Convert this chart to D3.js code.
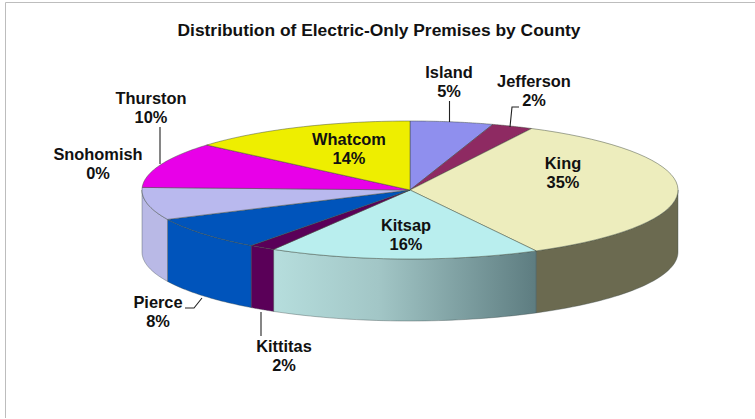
<!DOCTYPE html>
<html><head><meta charset="utf-8">
<script src="https://cdn.jsdelivr.net/npm/d3@7/dist/d3.min.js"></script>
<style>html,body{margin:0;background:#fff}svg{display:block}
text{font-family:"Liberation Sans",Arial,sans-serif;font-weight:bold;fill:#111}</style>
</head><body><svg id="c" width="755" height="419"></svg>
<script>
const title = "Distribution of Electric-Only Premises by County";
const categories = ["Island","Jefferson","King","Kitsap","Kittitas","Pierce","","Snohomish","Thurston","Whatcom"];
const sliceShares = [5,2.5,34.7,16.3,1.6,7.9,7.6,0,10.7,13.7];
const labelText = ["5%","2%","35%","16%","2%","8%","","0%","10%","14%"];

// styling and layout
const topColors = ["#8f8fee","#8e2a62","#ededbd","#b9eeee","#5a0058","#0054bb","#b9b9ee","#b9b9ee","#e800e8","#eeee00"];
const wallColors = ["#6f6fb8","#6e2050","#6b6a50","url(#kitsapWall)","#5a0058","#0054bb","#b9b9e6","#b9b9e6","#b000b0","#b0b000"];
const labelPos = [[449,82],[534,91],[563,173],[406,235],[284,356],[158,312],[0,0],[98,164],[151,108],[349,149]];
const leaders = [
  [[449.5,101],[449.5,122]],
  [[519,107],[512,107],[510,127]],
  [[185,308],[194,308],[202,298]],
  [[261,312],[261,336]],
  [[160,127],[160,164]]
];

const W=755,H=419,cx=410,cy=190,rx=268,ry=69,depth=62;
const svg=d3.select("#c");
const x=d3.scaleLinear().domain([-1,1]).range([cx-rx,cx+rx]);
const y=d3.scaleLinear().domain([-1,1]).range([cy-ry,cy+ry]);
const pie=d3.pie().value(d=>d).sort(null);
const arcs=pie(sliceShares);

const defs=svg.append("defs");
const g=defs.append("linearGradient").attr("id","kitsapWall").attr("gradientUnits","userSpaceOnUse")
  .attr("x1",273).attr("x2",537).attr("y1",0).attr("y2",0);
g.append("stop").attr("offset",0).attr("stop-color","#b6dedd");
g.append("stop").attr("offset",.4).attr("stop-color","#a2c6c6");
g.append("stop").attr("offset",1).attr("stop-color","#5d7c80");

// frame
svg.append("path").attr("d","M5.5,418V2.5H755").attr("fill","none").attr("stroke","#bdbdbd");

svg.append("text").attr("x",379).attr("y",36).attr("text-anchor","middle").attr("font-size",17.4).text(title);

const px=a=>x(Math.sin(a)), py=a=>y(-Math.cos(a));
const line=d3.line();
const samples=(a0,a1)=>d3.range(0,41).map(i=>a0+(a1-a0)*i/40);

// walls (front half only)
arcs.forEach((d,i)=>{
  const a0=Math.max(d.startAngle,Math.PI/2),a1=Math.min(d.endAngle,Math.PI*1.5);
  if(a1<=a0) return;
  const s=samples(a0,a1);
  const pts=s.map(a=>[px(a),py(a)]).concat(s.slice().reverse().map(a=>[px(a),py(a)+depth]));
  svg.append("path").attr("d",line(pts)+"Z").attr("fill",wallColors[i]).attr("stroke","#3c4a4a").attr("stroke-opacity",.55).attr("stroke-width",.7);
});
// tops
arcs.forEach((d,i)=>{
  if(d.endAngle<=d.startAngle) return;
  const pts=[[cx,cy]].concat(samples(d.startAngle,d.endAngle).map(a=>[px(a),py(a)]));
  svg.append("path").attr("d",line(pts)+"Z").attr("fill",topColors[i]).attr("stroke","#3f4a3a").attr("stroke-opacity",.6).attr("stroke-width",.8);
});
// leaders
leaders.forEach(l=>svg.append("path").attr("d",line(l)).attr("fill","none").attr("stroke","#222").attr("stroke-width",1.1));
// labels
categories.forEach((c,i)=>{
  if(!c) return;
  const t=svg.append("text").attr("text-anchor","middle").attr("font-size",16.4);
  t.append("tspan").attr("x",labelPos[i][0]).attr("y",labelPos[i][1]-4).text(c);
  t.append("tspan").attr("x",labelPos[i][0]).attr("y",labelPos[i][1]+15).text(labelText[i]);
});
</script></body></html>
